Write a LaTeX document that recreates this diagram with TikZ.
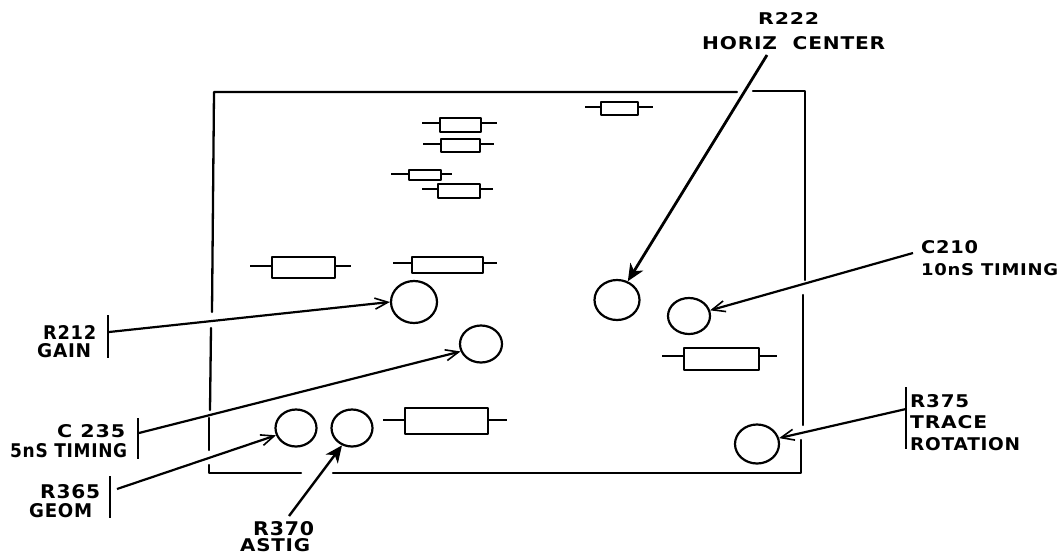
\documentclass[tikz,border=0pt]{standalone}
\usepackage{fontspec}
\usepackage{graphicx}
\setmainfont[LetterSpace=4]{DejaVu Sans}
\usetikzlibrary{arrows.meta,calc,shapes.geometric}
\tikzset{
  board/.style={line width=2.3pt,line cap=round,line join=round},
  partbox/.style={line width=2.2pt,line join=round,fill=white},
  lead/.style={line width=1.8pt},
  trimmer/.style={draw,ellipse,line width=2.2pt,inner sep=0pt},
  callout/.style={line width=2.2pt,-{Straight Barb[length=13pt,width=11pt,line width=1.6pt]}},
  heavycallout/.style={line width=2.8pt,-{Stealth[length=17pt,width=15pt,inset=5pt]}},
  bar/.style={line width=2.4pt},
  lettering/.style={inner sep=0pt,anchor=north west,font=\bfseries},
}
% name, x-left, y-top, x-right, y-bottom, text
\newcommand{\lbl}[6]{\node[lettering] (#1) at (#2,#3) {\resizebox{\dimexpr#4pt-#2pt\relax}{\dimexpr#5pt-#3pt\relax}{#6}};}
% name, body x1,y1,x2,y2, lead left, lead right, lead y
\newcommand{\resis}[8]{%
  \coordinate (#1l) at (#6,#8); \coordinate (#1r) at (#7,#8);
  \draw[lead] (#1l) -- (#1r);
  \node[draw,partbox,rectangle,inner sep=0pt,minimum width=\dimexpr#4pt-#2pt\relax,minimum height=\dimexpr#5pt-#3pt\relax,anchor=north west] (#1) at (#2,#3) {};}
\newcommand{\trim}[5]{\node[trimmer,minimum width=#4pt,minimum height=#5pt] (#1) at (#2,#3) {};}
\begin{document}
\begin{tikzpicture}[x=1pt,y=-1pt]
\useasboundingbox (0,0) rectangle (1062,555);
% board outline, broken where the call-outs cross
\draw[board] (212,312) -- (214,92) -- (737,92);
\draw[board] (753,91) -- (805,91) -- (805,280);
\draw[board] (803,295) -- (803,425);
\draw[board] (801,440) -- (801,473) -- (333,473);
\draw[board] (301,473) -- (209,473) -- (209,465);
\draw[board] (209,450) -- (209,418);
\draw[board] (210,410) -- (211,328);
% resistors
\resis{ra}{439}{117}{480}{131}{422}{497}{123}
\resis{rb}{440}{138}{479}{151}{423}{494}{144}
\resis{rc}{408}{169}{440}{179}{391}{452}{174}
\resis{rd}{437}{183}{479}{197}{422}{493}{189}
\resis{re}{271}{256}{334}{277}{250}{351}{266}
\resis{rf}{411}{256}{482}{272}{393}{497}{263}
\resis{rg}{600}{101}{637}{114}{585}{653}{107}
\resis{rh}{683}{347}{758}{369}{662}{777}{356}
\resis{ri}{404}{407}{487}{433}{383}{507}{420}
% adjustment points
\trim{tgain}{414}{302}{46}{42}
\trim{ttim}{481}{344}{42}{37}
\trim{tgeom}{296}{428}{41}{37}
\trim{tast}{352}{428}{41}{37}
\trim{thoriz}{617}{300}{45}{40}
\trim{tten}{689}{316}{42}{36}
\trim{trot}{757}{444}{44}{39}
% bars and free ends
\coordinate (bgaina) at (108,315); \coordinate (bgainb) at (108,358);
\coordinate (btima) at (138,418); \coordinate (btimb) at (138,459);
\coordinate (bgeoa) at (110,476); \coordinate (bgeob) at (110,518);
\coordinate (brota) at (906,387); \coordinate (brotb) at (906,449);
\draw[bar] (bgaina) -- (bgainb);
\draw[bar] (btima) -- (btimb);
\draw[bar] (bgeoa) -- (bgeob);
\draw[bar] (brota) -- (brotb);
\coordinate (fgain) at (109,332);
\coordinate (ftim) at (139,433);
\coordinate (fgeo) at (117,489);
\coordinate (fast) at (289,516);
\coordinate (fhor) at (767,55);
\coordinate (ften) at (913,253);
\coordinate (frot) at (906,409);
% call-outs
\draw[callout] (fgain) -- (tgain.west);
\draw[callout] (ftim) -- (ttim.200);
\draw[callout] (fgeo) -- (tgeom.200);
\draw[heavycallout,line width=2.4pt] (fast) -- (tast.240);
\draw[heavycallout] (fhor) -- (thoriz.60);
\draw[callout] (ften) -- (tten.15);
\draw[callout] (frot) -- (trot.15);
% lettering
\lbl{la}{43}{325}{96}{339}{R212}
\lbl{lb}{37}{343}{91}{357}{GAIN}
\lbl{lc}{57}{424}{125}{437}{C 235}
\lbl{ld}{10}{443}{127}{457}{5nS TIMING}
\lbl{le}{40}{484}{100}{498}{R365}
\lbl{lf}{29}{503}{92}{517}{GEOM}
\lbl{lg}{253}{521}{314}{535}{R370}
\lbl{lh}{240}{538}{310}{551}{ASTIG}
\lbl{li}{758}{12}{819}{24}{R222}
\lbl{lj}{702}{36}{885}{49}{HORIZ\ \ CENTER}
\lbl{lk}{921}{240}{978}{253}{C210}
\lbl{ll}{921}{263}{1058}{275}{10nS TIMING}
\lbl{lm}{910}{394}{969}{407}{R375}
\lbl{ln}{910}{415}{987}{428}{TRACE}
\lbl{lo}{910}{437}{1020}{450}{ROTATION}
\end{tikzpicture}
\end{document}
